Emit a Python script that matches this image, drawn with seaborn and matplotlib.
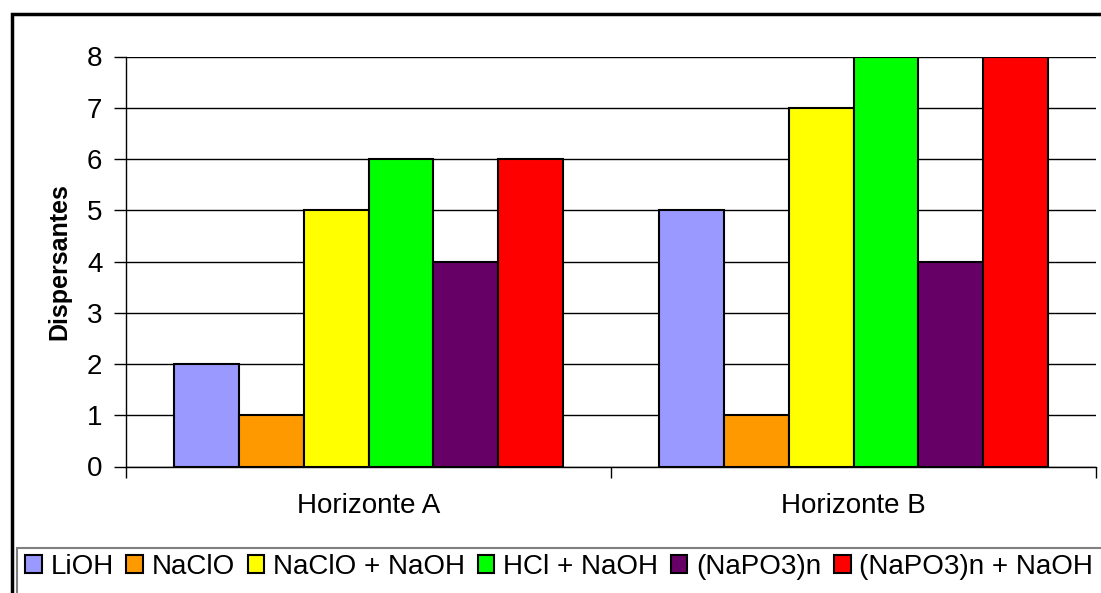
import pandas as pd
import numpy as np
import matplotlib.pyplot as plt
import seaborn as sns
from matplotlib.patches import Rectangle

horizontes = ['Horizonte A', 'Horizonte B']
tratamientos = ['LiOH', 'NaClO', 'NaClO + NaOH', 'HCl + NaOH', '(NaPO3)n', '(NaPO3)n + NaOH']
valores_A = [2, 1, 5, 6, 4, 6]
valores_B = [5, 1, 7, 8, 4, 8]
colores = ['#9999FF', '#FF9900', '#FFFF00', '#00FF00', '#660066', '#FF0000']

df = pd.DataFrame({
    'Horizonte': [horizontes[0]] * 6 + [horizontes[1]] * 6,
    'Tratamiento': tratamientos * 2,
    'Dispersantes': valores_A + valores_B,
})

sns.set_style('white')
plt.rcParams['font.family'] = ['Liberation Sans', 'DejaVu Sans']
plt.rcParams['text.color'] = 'black'
plt.rcParams['axes.labelcolor'] = 'black'
plt.rcParams['xtick.color'] = 'black'
plt.rcParams['ytick.color'] = 'black'

W, H = 1101, 593
fig = plt.figure(figsize=(W / 100, H / 100), dpi=100)
ax = fig.add_axes([126 / W, 1 - 466.5 / H, 970 / W, 410 / H])

sns.barplot(data=df, x='Horizonte', y='Dispersantes', hue='Tratamiento',
            hue_order=tratamientos, palette=colores, width=0.804, gap=0,
            edgecolor='black', linewidth=1.5, saturation=1, ax=ax, legend=True, zorder=3)

ax.set_ylim(0, 8)
ax.set_xlim(-0.5, 1.5)
ax.set_yticks(range(0, 9))
ax.yaxis.grid(True, color='black', linewidth=1)
ax.set_axisbelow(True)
for s in ['top', 'right']:
    ax.spines[s].set_visible(False)
for s in ['left', 'bottom']:
    ax.spines[s].set_color('black')
    ax.spines[s].set_linewidth(1)
ax.tick_params(axis='y', direction='out', length=9, width=1, color='black', labelcolor='black',
               labelsize=20, pad=8, left=True)
ax.tick_params(axis='x', which='major', length=0, labelsize=20, labelcolor='black', pad=19)
ax.set_xticks([-0.5, 0.5, 1.5], minor=True)
ax.tick_params(axis='x', which='minor', length=8, width=1, color='black', bottom=True)
ax.set_xlabel('')
ax.set_ylabel('Dispersantes', fontsize=18, fontweight='bold', labelpad=11, color='black')

handles, labels = ax.get_legend_handles_labels()
ax.get_legend().remove()
fig.legend(handles, labels, loc='lower left', bbox_to_anchor=(25 / W, 1 - 580 / H),
           ncol=6, frameon=False, fontsize=20, handlelength=0.6, handleheight=0.6,
           handletextpad=0.32, columnspacing=0.45, borderaxespad=0, borderpad=0)

# recuadros de fondo
fig.patches.append(Rectangle((17 / W, -0.1), 1.2, (1 - 548 / H) + 0.1, transform=fig.transFigure,
                             fill=False, edgecolor='#808080', linewidth=1.5))
fig.patches.append(Rectangle((12 / W, -0.1), 1.2, (1 - 14 / H) + 0.1, transform=fig.transFigure,
                             fill=False, edgecolor='black', linewidth=2.5))

fig.savefig('out.png', dpi=100)
